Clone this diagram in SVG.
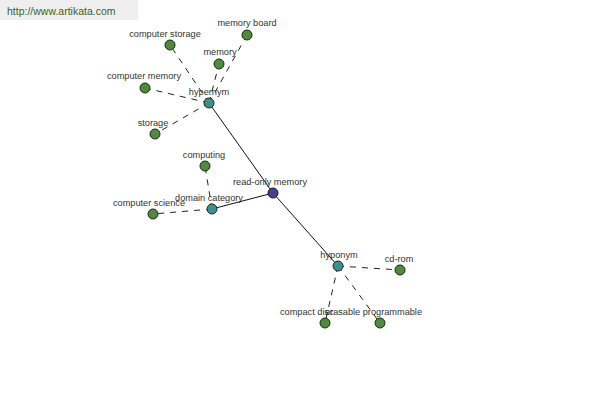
<svg xmlns="http://www.w3.org/2000/svg" width="600" height="400" viewBox="0 0 600 400">
<style>
text{font-family:"Liberation Sans",Arial,sans-serif;font-size:9.2px;fill:#333;text-anchor:middle}
.e{stroke:#111;stroke-width:1;fill:none}
.d{stroke:#222;stroke-width:1;stroke-dasharray:6,6;fill:none}
.g{fill:#4f8a3e;stroke:#1a2a14;stroke-width:1}
.t{fill:#3f8f8c;stroke:#1a2a2a;stroke-width:1}
.b{fill:#44448c;stroke:#15152a;stroke-width:1}
</style>
<rect x="0" y="0" width="138" height="20" fill="#efefef"/>
<text x="7" y="15" style="font-size:10.5px;fill:#3f5f22;text-anchor:start">http://www.artikata.com</text>
<g id="connectors">
<line class="e" x1="209" y1="103" x2="273" y2="193"/>
<line class="e" x1="273" y1="193" x2="212" y2="209"/>
<line class="e" x1="273" y1="193" x2="338" y2="266"/>
<line class="d" x1="209" y1="103" x2="170" y2="45"/>
<line class="d" x1="209" y1="103" x2="247" y2="35"/>
<line class="d" x1="209" y1="103" x2="219" y2="64"/>
<line class="d" x1="209" y1="103" x2="145" y2="88"/>
<line class="d" x1="209" y1="103" x2="155" y2="134"/>
<line class="d" x1="212" y1="209" x2="205" y2="166"/>
<line class="d" x1="212" y1="209" x2="153" y2="214"/>
<line class="d" x1="338" y1="266" x2="400" y2="270"/>
<line class="d" x1="338" y1="266" x2="325" y2="323"/>
<line class="d" x1="338" y1="266" x2="380" y2="323"/>
</g>
<g id="n-computer-storage"><circle class="g" cx="170" cy="45" r="5"/><text x="165" y="37">computer storage</text></g>
<g id="n-memory-board"><circle class="g" cx="247" cy="35" r="5"/><text x="247" y="26">memory board</text></g>
<g id="n-memory"><circle class="g" cx="219" cy="64" r="5"/><text x="220" y="55">memory</text></g>
<g id="n-computer-memory"><circle class="g" cx="145" cy="88" r="5"/><text x="144" y="79">computer memory</text></g>
<g id="n-storage"><circle class="g" cx="155" cy="134" r="5"/><text x="153" y="126">storage</text></g>
<g id="n-computing"><circle class="g" cx="205" cy="166" r="5"/><text x="204" y="158">computing</text></g>
<g id="n-computer-science"><circle class="g" cx="153" cy="214" r="5"/><text x="149" y="206">computer science</text></g>
<g id="n-cd-rom"><circle class="g" cx="400" cy="270" r="5"/><text x="399" y="262">cd-rom</text></g>
<g id="n-compact-disc"><circle class="g" cx="325" cy="323" r="5"/><text x="280" y="315" style="text-anchor:start">compact disc</text></g>
<g id="n-erasable-programmable"><circle class="g" cx="380" cy="323" r="5"/><text x="422" y="315" style="text-anchor:end">erasable programmable</text></g>
<g id="n-hypernym"><circle class="t" cx="209" cy="103" r="5"/><text x="209" y="95">hypernym</text></g>
<g id="n-domain-category"><circle class="t" cx="212" cy="209" r="5"/><text x="209" y="201">domain category</text></g>
<g id="n-hyponym"><circle class="t" cx="338" cy="266" r="5"/><text x="339" y="258">hyponym</text></g>
<g id="n-read-only-memory"><circle class="b" cx="273" cy="193" r="5"/><text x="270" y="185">read-only memory</text></g>
</svg>
